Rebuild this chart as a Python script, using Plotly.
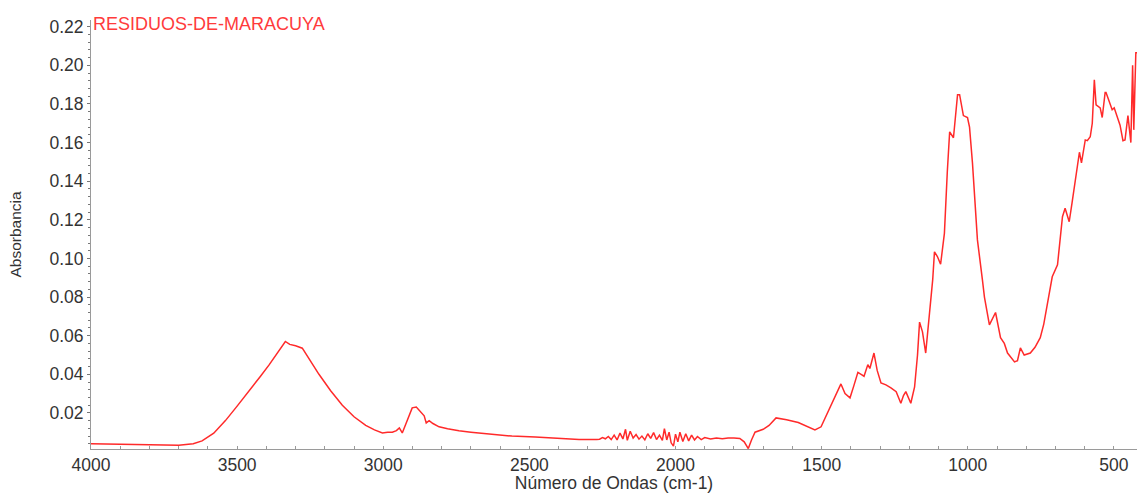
import plotly.graph_objects as go

# Wavenumber (cm-1) and absorbance
wavenumber = [
    4000, 3900, 3800, 3700, 3650, 3620, 3580, 3540, 3500, 3460, 3420, 3390, 3360, 3335, 3320, 3300,
    3277, 3250, 3220, 3180, 3140, 3100, 3060, 3030, 3003, 2985, 2969, 2955, 2945, 2935, 2922, 2910,
    2901, 2887, 2870, 2860, 2853, 2843, 2830, 2809, 2780, 2741, 2700, 2628, 2560, 2480, 2400, 2330,
    2270, 2260, 2250, 2240, 2230, 2220, 2210, 2200, 2190, 2180, 2171, 2165, 2155, 2145, 2135, 2125,
    2115, 2105, 2095, 2085, 2075, 2065, 2055, 2045, 2038, 2030, 2022, 2015, 2007, 2000, 1992, 1985,
    1975, 1965, 1955, 1945, 1935, 1925, 1912, 1900, 1880, 1860, 1840, 1820, 1800, 1780, 1765, 1751,
    1740, 1728, 1700, 1680, 1656, 1620, 1580, 1540, 1523, 1502, 1480, 1455, 1443, 1434, 1420, 1403,
    1390, 1376, 1365, 1355, 1342, 1335, 1321, 1310, 1297, 1280, 1263, 1245, 1229, 1220, 1212, 1203,
    1195, 1182, 1172, 1165, 1155, 1144, 1135, 1120, 1114, 1104, 1093, 1080, 1070, 1062, 1049, 1042,
    1035, 1028, 1015, 1001, 994, 984, 975, 967, 950, 943, 926, 915, 905, 888, 875, 864,
    850, 840, 830, 820, 807, 786, 770, 752, 740, 728, 711, 693, 683, 676, 667, 653,
    643, 632, 618, 611, 598, 591, 581, 574, 567, 561, 547, 540, 530, 527, 516, 506,
    499, 489, 479, 469, 462, 452, 442, 436, 432, 425, 421,
]
absorbance = [
    0.0040, 0.0037, 0.0034, 0.0032, 0.0040, 0.0055, 0.0095, 0.0160, 0.0235, 0.0310, 0.0390, 0.0450, 0.0515, 0.0570, 0.0555, 0.0548,
    0.0535, 0.0470, 0.0400, 0.0315, 0.0240, 0.0180, 0.0135, 0.0112, 0.0096, 0.0100, 0.0100, 0.0108, 0.0122, 0.0096, 0.0148, 0.0200,
    0.0226, 0.0230, 0.0205, 0.0185, 0.0148, 0.0160, 0.0145, 0.0128, 0.0118, 0.0107, 0.0100, 0.0091, 0.0080, 0.0075, 0.0068, 0.0062,
    0.0062, 0.0064, 0.0072, 0.0066, 0.0078, 0.0062, 0.0085, 0.0060, 0.0095, 0.0065, 0.0115, 0.0058, 0.0105, 0.0070, 0.0088, 0.0064,
    0.0080, 0.0060, 0.0092, 0.0068, 0.0098, 0.0062, 0.0085, 0.0058, 0.0118, 0.0060, 0.0100, 0.0045, 0.0028, 0.0090, 0.0050, 0.0100,
    0.0052, 0.0092, 0.0055, 0.0085, 0.0060, 0.0078, 0.0062, 0.0072, 0.0065, 0.0070, 0.0066, 0.0070, 0.0070, 0.0068, 0.0050, 0.0015,
    0.0060, 0.0100, 0.0115, 0.0135, 0.0174, 0.0165, 0.0150, 0.0125, 0.0112, 0.0128, 0.0200, 0.0280, 0.0320, 0.0350, 0.0300, 0.0278,
    0.0340, 0.0410, 0.0400, 0.0390, 0.0450, 0.0430, 0.0510, 0.0420, 0.0355, 0.0345, 0.0330, 0.0310, 0.0250, 0.0290, 0.0310, 0.0280,
    0.0250, 0.0335, 0.0500, 0.0670, 0.0620, 0.0510, 0.0650, 0.0890, 0.1034, 0.1010, 0.0970, 0.1130, 0.1450, 0.1656, 0.1625, 0.1755,
    0.1848, 0.1848, 0.1740, 0.1730, 0.1680, 0.1495, 0.1250, 0.1096, 0.0890, 0.0800, 0.0656, 0.0690, 0.0720, 0.0590, 0.0560, 0.0510,
    0.0480, 0.0464, 0.0470, 0.0537, 0.0500, 0.0510, 0.0540, 0.0590, 0.0660, 0.0770, 0.0905, 0.0967, 0.1100, 0.1216, 0.1260, 0.1190,
    0.1290, 0.1407, 0.1550, 0.1495, 0.1614, 0.1610, 0.1630, 0.1700, 0.1925, 0.1796, 0.1780, 0.1730, 0.1860, 0.1860, 0.1806, 0.1770,
    0.1780, 0.1740, 0.1690, 0.1610, 0.1614, 0.1740, 0.1600, 0.2000, 0.1666, 0.2065, 0.2065,
]

y_ticks = [0.02, 0.04, 0.06, 0.08, 0.10, 0.12, 0.14, 0.16, 0.18, 0.20, 0.22]
y_tick_labels = ["0.02", "0.04", "0.06", "0.08", "0.10", "0.12", "0.14", "0.16", "0.18", "0.20", "0.22"]
x_ticks = [4000, 3500, 3000, 2500, 2000, 1500, 1000, 500]
x_tick_labels = ["4000", "3500", "3000", "2500", "2000", "1500", "1000", "500"]

sample_name = "RESIDUOS-DE-MARACUYA"

fig = go.Figure()
fig.add_trace(go.Scatter(
    x=wavenumber, y=absorbance, mode="lines",
    line=dict(color="#ff2a2a", width=1.5),
    showlegend=False,
))

font_family = "Liberation Sans, Arial, sans-serif"

fig.update_layout(
    width=1137, height=493,
    margin=dict(l=91, r=0, t=20, b=44),
    paper_bgcolor="white", plot_bgcolor="white",
    font=dict(family=font_family, color="#3a3a3a"),
    xaxis=dict(
        range=[4000, 421], automargin=False,
        tickvals=x_ticks, ticktext=x_tick_labels,
        tickfont=dict(size=17.5, color="#333333"),
        showgrid=False, zeroline=False,
        showline=True, linecolor="#9a9a9a", linewidth=1,
        ticks="inside", ticklen=3, tickcolor="#9a9a9a",
        minor=dict(dtick=100, ticks="inside", ticklen=3, tickcolor="#9a9a9a"),
        title=dict(text="Número de Ondas (cm-1)", font=dict(size=17.5, color="#333333"), standoff=3),
    ),
    yaxis=dict(
        range=[0.0013, 0.2235], automargin=False,
        tickvals=y_ticks, ticktext=y_tick_labels,
        tickfont=dict(size=17.5, color="#333333"),
        showgrid=False, zeroline=False,
        showline=True, linecolor="#9a9a9a", linewidth=1,
        ticks="outside", ticklen=3, tickcolor="#777777",
        minor=dict(dtick=0.004, tick0=0, ticks="outside", ticklen=2, tickcolor="#777777"),
        title=dict(text="Absorbancia", font=dict(size=15.5, color="#333333"), standoff=24),
    ),
    annotations=[dict(
        text=sample_name, xref="paper", yref="paper", x=0.0, y=1.0,
        xanchor="left", yanchor="middle", showarrow=False, yshift=-4,
        font=dict(size=18, color="#ff3b3b", family=font_family),
    )],
)

# Remove the default page margin so the 1137x493 figure fills the window exactly.
fig.write_html(
    "out.html",
    config={"displayModeBar": False},
    post_script="document.body.style.margin='0';document.body.style.overflow='hidden';",
)
